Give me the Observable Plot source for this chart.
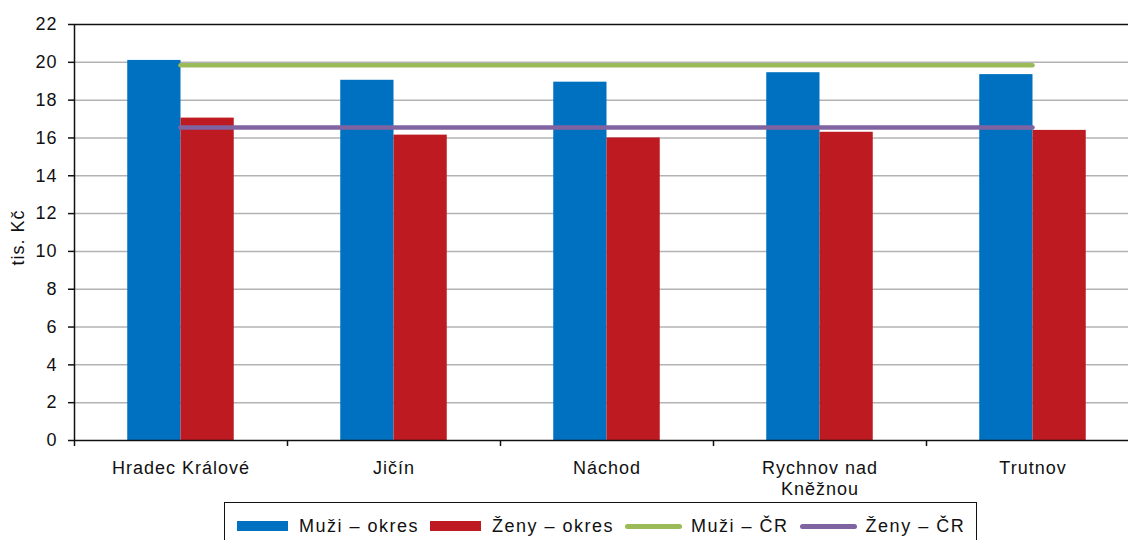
<!DOCTYPE html>
<html>
<head>
<meta charset="utf-8">
<script src="https://cdn.jsdelivr.net/npm/d3@7"></script>
<script src="https://cdn.jsdelivr.net/npm/@observablehq/plot@0.6"></script>
<style>
  html, body { margin: 0; padding: 0; background: #fff; overflow: hidden; width: 1128px; height: 540px; }
  #wrap { position: relative; width: 1140px; height: 540px; font-family: "Liberation Sans", Arial, sans-serif; }
  #chart svg text { letter-spacing: 1px; }
  #legend { position: absolute; left: 224px; top: 502px; width: 753px; height: 60px; border: 1.5px solid #111; box-sizing: border-box; background: transparent; }
  #legend .row { position: absolute; left: 12px; top: 14px; height: 18px; display: flex; align-items: center; font-size: 18px; letter-spacing: 1.5px; color: #111; white-space: nowrap; }
  #legend .sw { display: inline-block; }
  #legend .lab { margin-right: 11px; }
</style>
</head>
<body>
<div id="wrap">
  <div id="chart"></div>
  <div id="legend"><div class="row"></div></div>
</div>
<script>
const categories = ["Hradec Králové", "Jičín", "Náchod", "Rychnov nad Kněžnou", "Trutnov"];
const muziOkres = [20.1, 19.05, 18.95, 19.45, 19.35];
const zenyOkres = [17.05, 16.15, 16.0, 16.3, 16.4];
const muziCR = 19.85;
const zenyCR = 16.55;
const yTicks = [0, 2, 4, 6, 8, 10, 12, 14, 16, 18, 20, 22];
const seriesNames = ["Muži – okres", "Ženy – okres", "Muži – ČR", "Ženy – ČR"];
const seriesKinds = ["bar", "bar", "line", "line"];
const seriesColors = ["#0070C0", "#BE1A22", "#9BBB59", "#8064A2"];

const idx = categories.map((_, i) => i);
const last = categories.length - 1;
const bars = [
  ...idx.map(i => ({x1: i - 0.25, x2: i, y: muziOkres[i], s: 0})),
  ...idx.map(i => ({x1: i, x2: i + 0.25, y: zenyOkres[i], s: 1}))
];
const refLines = [
  {y: muziCR, x1: 0, x2: last, s: 2},
  {y: zenyCR, x1: 0, x2: last, s: 3}
];
const boundaries = d3.range(-0.5, categories.length, 1);

const chart = Plot.plot({
  width: 1140,
  height: 500,
  marginLeft: 74,
  marginRight: 1,
  marginTop: 24,
  marginBottom: 60,
  x: {domain: [-0.5, categories.length - 0.5], axis: null},
  y: {domain: [0, 22], axis: null},
  style: {fontFamily: '"Liberation Sans", Arial, sans-serif', fontSize: "18px", color: "#111", background: "white", overflow: "visible"},
  marks: [
    Plot.gridY(yTicks.filter(t => t > 0 && t < 22), {stroke: "#b3b3b3", strokeOpacity: 1, strokeWidth: 1.5}),
    Plot.rectY(bars, {x1: "x1", x2: "x2", y: "y", fill: d => seriesColors[d.s]}),
    Plot.ruleY(refLines, {y: "y", x1: "x1", x2: "x2", stroke: d => seriesColors[d.s], strokeWidth: 4.5, strokeLinecap: "round"}),
    Plot.ruleY([22], {stroke: "#111", strokeWidth: 1.5}),
    Plot.ruleY([0], {stroke: "#111", strokeWidth: 1.5}),
    Plot.ruleX([-0.5], {stroke: "#111", strokeWidth: 1.5}),
    Plot.axisY({ticks: yTicks, tickSize: 6, tickPadding: 11, label: null, fontSize: 18, strokeWidth: 1.5}),
    Plot.axisX({ticks: boundaries, tickSize: 6, tickFormat: () => "", label: null, strokeWidth: 1.5}),
    Plot.axisX({ticks: idx, tickSize: 0, tickPadding: 18, label: null, fontSize: 18, lineHeight: 1.2,
      tickFormat: i => categories[i].replace(" nad ", " nad\n")}),
    Plot.text(["tis. Kč"], {frameAnchor: "left", text: d => d, rotate: -90, dx: -56, dy: 5, textAnchor: "middle", fontSize: 18, fill: "#111"})
  ]
});
document.getElementById("chart").appendChild(chart);

const row = document.querySelector("#legend .row");
seriesNames.forEach((name, i) => {
  const sw = document.createElement("span");
  sw.className = "sw";
  if (seriesKinds[i] === "bar") {
    sw.style.cssText = `width:51px;height:10px;background:${seriesColors[i]};margin-right:11px;`;
  } else {
    sw.style.cssText = `width:57px;height:5px;border-radius:3px;background:${seriesColors[i]};margin-right:9px;`;
  }
  const lab = document.createElement("span");
  lab.className = "lab";
  lab.textContent = name;
  row.appendChild(sw);
  row.appendChild(lab);
});
</script>
</body>
</html>
